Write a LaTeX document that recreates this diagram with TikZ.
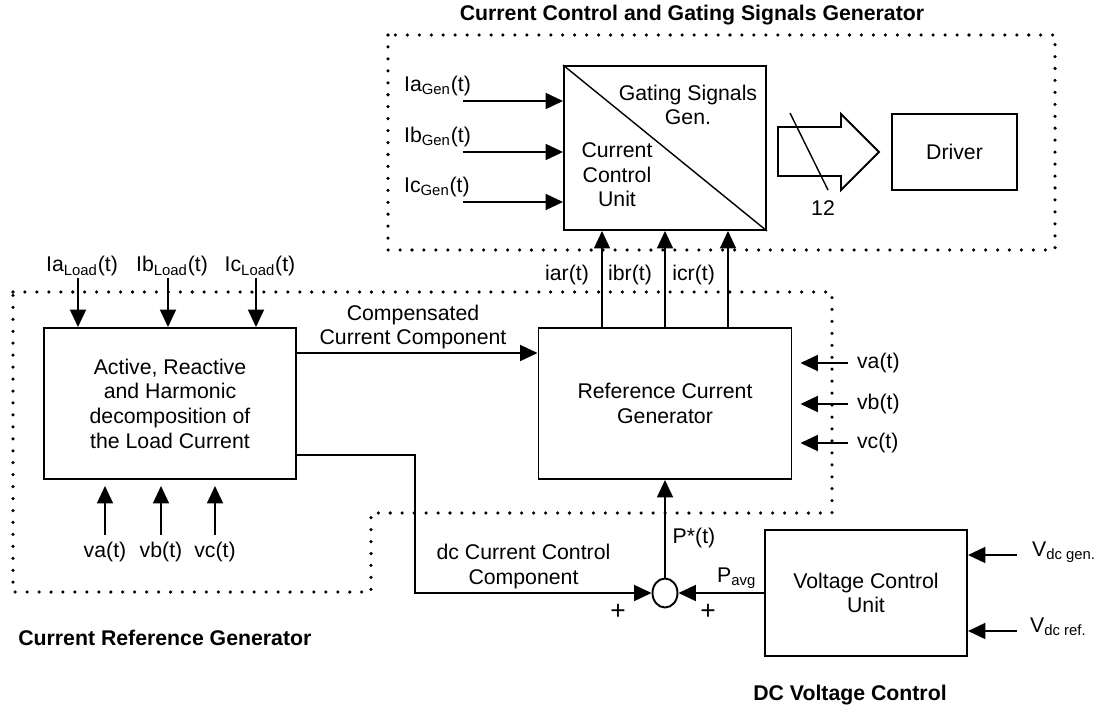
\documentclass[tikz,border=0pt]{standalone}
\usepackage{fontspec}
\setmainfont{Liberation Sans}
\usepackage{tikz}
\usetikzlibrary{arrows.meta,positioning,calc,shapes.geometric}
\newcommand{\txtfont}{\fontsize{12.1pt}{14pt}\selectfont}

\begin{document}
\begin{tikzpicture}[scale=1.0,
  blk/.style={draw,line width=1.1pt,align=center,font=\txtfont,inner sep=0pt},
  sig/.style={line width=1.1pt,-{Triangle[length=3.5mm,width=3.2mm]}},
  zone/.style={line width=2pt,line cap=round,dash pattern=on 0pt off 6.8pt},
  lbl/.style={font=\txtfont,inner sep=1pt},
  ttl/.style={font=\txtfont\bfseries,inner sep=0pt}]
\useasboundingbox (0,0) rectangle (22.02,-14.26);
\draw[zone] (7.76,-0.70) rectangle (21.10,-5.00);
\draw[zone] (0.26,-5.84) -- (16.64,-5.84) -- (16.64,-10.26) -- (7.42,-10.26) -- (7.42,-11.84) -- (0.26,-11.84) -- cycle;
\node[ttl] (ttlgate) at (13.84,-0.30) {Current Control and Gating Signals Generator};
\node[ttl,anchor=west] (ttlref) at (0.36,-12.76) {Current Reference Generator};
\node[ttl] (ttldc) at (17.00,-13.90) {DC Voltage Control};

\node[blk,minimum width=4.04cm,minimum height=3.28cm] (gsg) at (13.30,-2.96) {};
\draw[line width=0.8pt] (gsg.north west) -- (gsg.south east);
\node[lbl,align=center] (gsgtxt) at (13.76,-2.10) {Gating Signals\\Gen.};
\node[lbl,align=center] (ccutxt) at (12.34,-3.50) {Current\\Control\\Unit};
\foreach \ph/\yy in {a/-2.02,b/-3.04,c/-4.04} {
  \coordinate (i\ph gen) at (9.26,\yy);
  \draw[sig] (i\ph gen) -- (i\ph gen -| gsg.west);
  \node[lbl,anchor=base west] at (8.04,\yy+0.19) {I\ph\textsubscript{Gen}(t)};
}
\draw[line width=1.1pt] (15.56,-2.54) -- (16.82,-2.54) -- (16.82,-2.28) -- (17.58,-3.04) -- (16.82,-3.80) -- (16.82,-3.52) -- (15.56,-3.52) -- cycle;
\draw[line width=0.8pt] (15.80,-2.26) -- (16.56,-3.80);
\node[lbl] (nbits) at (16.46,-4.16) {12};
\node[blk,minimum width=2.5cm,minimum height=1.52cm] (drv) at (19.09,-3.04) {Driver};

\node[blk,minimum width=5.04cm,minimum height=3.02cm] (dec) at (3.40,-8.07) {Active, Reactive\\and Harmonic\\decomposition of\\the Load Current};
\node[blk,minimum width=5.06cm,minimum height=3.02cm] (refgen) at (13.30,-8.07) {Reference Current\\Generator};
\node[blk,minimum width=4.04cm,minimum height=2.52cm] (vcu) at (17.32,-11.86) {Voltage Control\\Unit};
\node[draw,ellipse,line width=1.1pt,minimum width=0.5cm,minimum height=0.58cm,inner sep=0pt] (sum) at (13.30,-11.86) {};

\foreach \ph/\xx in {a/1.56,b/3.36,c/5.12} {
  \coordinate (i\ph load) at (\xx,-5.56);
  \draw[sig] (i\ph load) -- (i\ph load |- dec.north);
  \node[lbl,anchor=south,xshift=0.08cm] at (i\ph load) {I\ph\textsubscript{Load}(t)};
}
\foreach \ph/\xx in {a/2.10,b/3.22,c/4.30} {
  \coordinate (v\ph dec) at (\xx,-10.70);
  \draw[sig,shorten >=0.12cm] (v\ph dec) -- (v\ph dec |- dec.south);
  \node[lbl,anchor=north,yshift=-0.1cm] at (v\ph dec) {v\ph(t)};
}
\draw[sig] ($(dec.east)+(0,1.01)$) -- ($(refgen.west)+(0,1.01)$);
\node[lbl,align=center] at (8.26,-6.54) {Compensated\\Current Component};
\coordinate (dcbend) at (8.30,-11.86);
\draw[sig] ($(dec.east)+(0,-1.03)$) -| (dcbend) -- (sum.west);
\node[lbl,align=center] at (10.47,-11.33) {dc Current Control\\Component};
\draw[sig] (sum.north) -- (refgen.south);
\node[lbl] at (13.88,-10.76) {P*(t)};
\draw[sig] (vcu.west) -- (sum.east);
\node[lbl,anchor=base west] at (14.30,-11.64) {P\textsubscript{avg}};
\node[lbl,font=\fontsize{15pt}{16pt}\selectfont] at (12.36,-12.24) {+}; \node[lbl,font=\fontsize{15pt}{16pt}\selectfont] at (14.16,-12.24) {+};

\foreach \ph/\dx in {a/-1.26,b/0,c/1.26} {
  \draw[sig] ($(refgen.north)+(\dx,0)$) -- ($(gsg.south)+(\dx,0)$);
  \node[lbl,anchor=base east] at ($(refgen.north)+(\dx-0.22,0.94)$) {i\ph r(t)};
}
\foreach \ph/\yy in {a/-7.26,b/-8.08,c/-8.86} {
  \coordinate (v\ph ref) at (16.96,\yy);
  \draw[sig,shorten >=0.16cm] (v\ph ref) -- (v\ph ref -| refgen.east);
  \node[lbl,anchor=west,xshift=0.14cm] at (v\ph ref) {v\ph(t)};
}
\coordinate (vdcgen) at (20.34,-11.10); \coordinate (vdcref) at (20.34,-12.62);
\draw[sig] (vdcgen) -- (vdcgen -| vcu.east); \draw[sig] (vdcref) -- (vdcref -| vcu.east);
\node[lbl,anchor=base west] at (20.60,-11.12) {V\textsubscript{dc gen.}};
\node[lbl,anchor=base west] at (20.56,-12.64) {V\textsubscript{dc ref.}};
\end{tikzpicture}
\end{document}
